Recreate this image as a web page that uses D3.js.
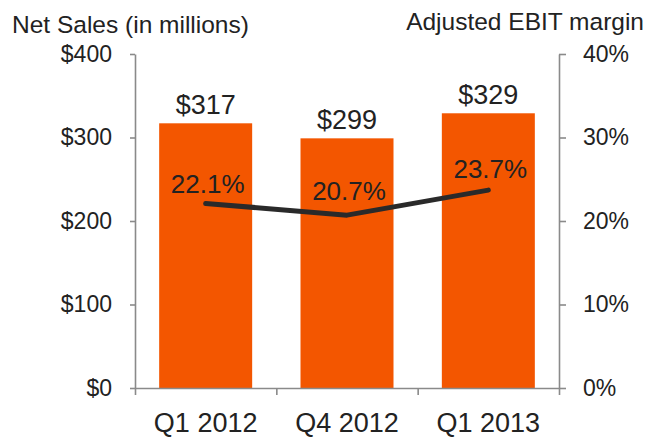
<!DOCTYPE html>
<html>
<head>
<meta charset="utf-8">
<script src="https://cdn.jsdelivr.net/npm/d3@7"></script>
<style>
  html, body { margin: 0; padding: 0; background: #ffffff; }
  svg { display: block; font-family: "Liberation Sans", Arial, Helvetica, sans-serif; }
</style>
</head>
<body>
<svg id="chart" width="652" height="439"></svg>
<script>
// Quarterly net sales (USD millions) and adjusted EBIT margin (%)
const quarters = ["Q1 2012", "Q4 2012", "Q1 2013"];
const netSales = [317, 299, 329];
const ebitMargin = [22.1, 20.7, 23.7];
const salesTicks = [0, 100, 200, 300, 400];
const marginTicks = [0, 10, 20, 30, 40];

const svg = d3.select("#chart");
const plot = { left: 135, right: 559, top: 54, bottom: 388 };
const textColor = "#222222";
const axisColor = "#8a8a8a";

const x = d3.scaleBand().domain(quarters).range([plot.left, plot.right])
  .paddingInner(0.342).paddingOuter(0.171);
const ySales = d3.scaleLinear().domain([0, 400]).range([plot.bottom, plot.top]);
const yMargin = d3.scaleLinear().domain([0, 40]).range([plot.bottom, plot.top]);
// boundaries between quarters, for the tick marks on the category axis
const xEdge = d3.scaleLinear().domain([0, quarters.length]).range([plot.left, plot.right]);

// Bars
svg.append("g").selectAll("rect").data(netSales).join("rect")
  .attr("x", (d, i) => x(quarters[i]))
  .attr("width", x.bandwidth())
  .attr("y", d => ySales(d))
  .attr("height", d => ySales(0) - ySales(d))
  .attr("fill", "#f35600");

// Bar value labels
svg.append("g").selectAll("text").data(netSales).join("text")
  .attr("x", (d, i) => x(quarters[i]) + x.bandwidth() / 2)
  .attr("y", d => ySales(d) - 9)
  .attr("text-anchor", "middle")
  .attr("font-size", 27)
  .attr("fill", textColor)
  .text(d => "$" + d);

function styleAxis(g) {
  g.selectAll(".domain").attr("stroke", axisColor).attr("stroke-width", 1.6);
  g.selectAll(".tick line").attr("stroke", axisColor).attr("stroke-width", 1.6);
  g.selectAll(".tick text").attr("fill", textColor);
}

// Left axis: net sales
svg.append("g")
  .attr("transform", `translate(${plot.left},0)`)
  .call(d3.axisLeft(ySales).tickValues(salesTicks).tickSize(5).tickSizeOuter(0)
    .tickPadding(18).tickFormat(d => "$" + d))
  .call(g => g.selectAll(".tick text").attr("font-size", 23))
  .call(styleAxis);

// Right axis: EBIT margin
svg.append("g")
  .attr("transform", `translate(${plot.right},0)`)
  .call(d3.axisRight(yMargin).tickValues(marginTicks).tickSize(7).tickSizeOuter(0)
    .tickPadding(17).tickFormat(d => d + "%"))
  .call(g => g.selectAll(".tick text").attr("font-size", 23))
  .call(styleAxis);

// Category axis line with boundary ticks
svg.append("g")
  .attr("transform", `translate(0,${plot.bottom})`)
  .call(d3.axisBottom(xEdge).tickValues(d3.range(quarters.length + 1))
    .tickSize(7).tickSizeOuter(0).tickFormat(""))
  .call(styleAxis);

// Category labels
svg.append("g")
  .attr("transform", `translate(0,${plot.bottom})`)
  .call(d3.axisBottom(x).tickSize(0).tickPadding(25))
  .call(g => g.select(".domain").remove())
  .call(g => g.selectAll(".tick text").attr("font-size", 27).attr("fill", textColor)
    .attr("font-family", "'Liberation Sans', Arial, Helvetica, sans-serif"));

// Margin line
const line = d3.line()
  .x((d, i) => x(quarters[i]) + x.bandwidth() / 2)
  .y(d => yMargin(d));
svg.append("path")
  .datum(ebitMargin)
  .attr("d", line)
  .attr("fill", "none")
  .attr("stroke", "#2a2a2a")
  .attr("stroke-width", 5)
  .attr("stroke-linecap", "round")
  .attr("stroke-linejoin", "round");

// Margin labels
const labelLift = [10, 15, 12];
svg.append("g").selectAll("text").data(ebitMargin).join("text")
  .attr("x", (d, i) => x(quarters[i]) + x.bandwidth() / 2 + 2)
  .attr("y", (d, i) => yMargin(d) - labelLift[i])
  .attr("text-anchor", "middle")
  .attr("font-size", 26)
  .attr("fill", textColor)
  .text(d => d.toFixed(1) + "%");

// Axis titles
svg.append("text")
  .attr("x", 12).attr("y", 33)
  .attr("font-size", 24.5)
  .attr("fill", textColor)
  .text("Net Sales (in millions)");
svg.append("text")
  .attr("x", 644).attr("y", 30)
  .attr("text-anchor", "end")
  .attr("font-size", 24.5)
  .attr("fill", textColor)
  .text("Adjusted EBIT margin");
</script>
</body>
</html>
